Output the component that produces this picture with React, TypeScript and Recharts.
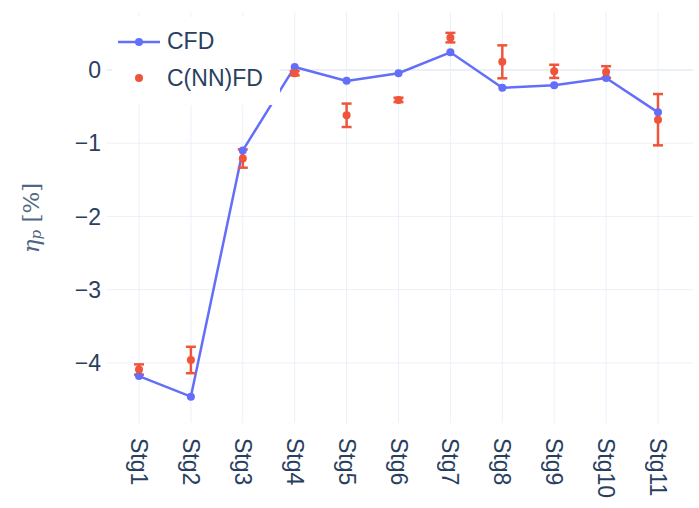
import { ComposedChart, Line, XAxis, YAxis, CartesianGrid, ErrorBar, Legend, ReferenceLine } from 'recharts';

const stages = ['Stg1', 'Stg2', 'Stg3', 'Stg4', 'Stg5', 'Stg6', 'Stg7', 'Stg8', 'Stg9', 'Stg10', 'Stg11'];
const cfd = [-4.18, -4.46, -1.1, 0.04, -0.15, -0.045, 0.24, -0.245, -0.21, -0.11, -0.58];
const cnnfd = [-4.09, -3.96, -1.21, -0.045, -0.62, -0.41, 0.44, 0.11, -0.02, -0.03, -0.68];
const cnnfdErr = [0.07, 0.18, 0.125, 0.03, 0.16, 0.03, 0.065, 0.225, 0.09, 0.08, 0.35];
const yTicks = [-4, -3, -2, -1, 0];

const BLUE = '#636efa';
const RED = '#ef553b';
const TEXT = '#2a3f5f';
const GRID = '#ebf0f8';
const FONT = '"Liberation Sans", Arial, sans-serif';

const data = stages.map((s, i) => ({
  stage: s,
  cfd: cfd[i],
  cnnfd: cnnfd[i],
  err: cnnfdErr[i],
}));

// rotated category labels, reading top to bottom
const StageTick = (props: any) => {
  const { x, y, payload } = props;
  return (
    <text
      x={x}
      y={y}
      transform={`rotate(90, ${x}, ${y})`}
      textAnchor="start"
      dominantBaseline="central"
      fill={TEXT}
      fontSize={23}
      fontFamily={FONT}
    >
      {payload.value}
    </text>
  );
};

const YLabel = () => (
  <text
    x={31}
    y={218}
    transform="rotate(-90, 31, 218)"
    textAnchor="middle"
    dominantBaseline="central"
    fill="#506784"
    fontFamily='"DejaVu Serif", "Liberation Serif", serif'
    fontSize={23}
  >
    <tspan fontStyle="italic">η</tspan>
    <tspan fontStyle="italic" fontSize={15} dy={5}>p</tspan>
    <tspan dy={-5}> [%]</tspan>
  </text>
);

const LegendBox = () => (
  <div
    style={{
      background: '#fff',
      width: 168,
      height: 88,
      fontFamily: FONT,
      fontSize: 23,
      color: TEXT,
      position: 'relative',
    }}
  >
    <svg width={60} height={88} style={{ position: 'absolute', left: 0, top: 0 }}>
      <line x1={6} y1={25} x2={48} y2={25} stroke={BLUE} strokeWidth={2.5} />
      <circle cx={27} cy={25} r={4} fill={BLUE} />
      <circle cx={27} cy={61} r={4} fill={RED} />
    </svg>
    <div style={{ position: 'absolute', left: 55, top: 11 }}>CFD</div>
    <div style={{ position: 'absolute', left: 55, top: 48 }}>C(NN)FD</div>
  </div>
);

export default function App() {
  return (
    <div style={{ position: 'absolute', left: 0, top: 0, background: '#fff' }}>
      <ComposedChart
        width={699}
        height={508}
        data={data}
        margin={{ top: 12, right: 6, bottom: 0, left: 0 }}
      >
        <CartesianGrid stroke={GRID} strokeWidth={1} syncWithTicks />
        <XAxis
          dataKey="stage"
          type="category"
          padding={{ left: 32, right: 35 }}
          height={85}
          axisLine={false}
          tickLine={false}
          tickSize={0}
          tickMargin={15}
          interval={0}
          tick={<StageTick />}
        />
        <YAxis
          type="number"
          domain={[-4.82, 0.79]}
          ticks={yTicks}
          width={107}
          axisLine={false}
          tickLine={false}
          tickSize={0}
          tickMargin={6}
          tick={{ fill: TEXT, fontSize: 23, fontFamily: FONT }}
          tickFormatter={(v: number) => (v < 0 ? `\u2212${Math.abs(v)}` : `${v}`)}
          label={<YLabel />}
        />
        <ReferenceLine y={0} stroke={GRID} strokeWidth={2} />
        <Line
          dataKey="cfd"
          stroke={BLUE}
          strokeWidth={2.5}
          dot={{ r: 4, fill: BLUE, stroke: BLUE, strokeWidth: 0 }}
          activeDot={false}
          isAnimationActive={false}
        />
        <Line
          dataKey="cnnfd"
          stroke="none"
          dot={{ r: 4, fill: RED, stroke: RED, strokeWidth: 0 }}
          activeDot={false}
          isAnimationActive={false}
        >
          <ErrorBar dataKey="err" direction="y" width={5} stroke={RED} strokeWidth={2.5} />
        </Line>
        <Legend
          layout="horizontal"
          verticalAlign="middle"
          align="center"
          content={<LegendBox />}
          wrapperStyle={{ left: 112, top: 17, width: 168, height: 88 }}
        />
      </ComposedChart>
    </div>
  );
}
